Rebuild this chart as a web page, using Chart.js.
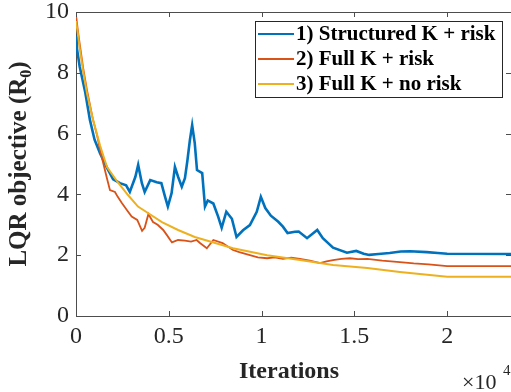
<!DOCTYPE html>
<html lang="en">
<head>
<meta charset="UTF-8">
<title>LQR objective vs iterations</title>
<script src="https://cdn.jsdelivr.net/npm/chart.js"></script>
<style>
    html, body { margin: 0; padding: 0; background: #fff; overflow: hidden; }
    .chart-container { position: relative; width: 511px; height: 392px; }
</style>
</head>
<body>
<div class="chart-container"><canvas id="lqr-chart"></canvas></div>
<script>
// iterations in units of 1e4 (the axis shows a x10^4 multiplier)
const structuredIter = [0, 0.005, 0.02, 0.05, 0.075, 0.1, 0.13, 0.165, 0.2, 0.237, 0.27, 0.29, 0.32, 0.335, 0.355, 0.37, 0.4, 0.435, 0.46, 0.48, 0.495, 0.515, 0.533, 0.55, 0.57, 0.587, 0.6, 0.614, 0.626, 0.64, 0.652, 0.68, 0.695, 0.71, 0.74, 0.766, 0.785, 0.81, 0.84, 0.865, 0.9, 0.937, 0.974, 0.996, 1.02, 1.05, 1.09, 1.115, 1.14, 1.18, 1.2, 1.245, 1.3, 1.33, 1.385, 1.46, 1.51, 1.55, 1.58, 1.63, 1.69, 1.75, 1.8, 1.89, 1.95, 2.0, 2.344];
const structuredObj = [9.2, 8.8, 8.2, 7.35, 6.45, 5.8, 5.35, 4.9, 4.5, 4.37, 4.3, 4.08, 4.58, 4.97, 4.37, 4.08, 4.47, 4.4, 4.37, 3.92, 3.6, 4.04, 4.9, 4.58, 4.25, 4.53, 5.1, 5.8, 6.28, 5.68, 4.8, 4.7, 3.6, 3.8, 3.7, 3.27, 2.9, 3.43, 3.2, 2.6, 2.82, 2.99, 3.43, 3.92, 3.55, 3.3, 3.1, 2.94, 2.73, 2.77, 2.78, 2.56, 2.83, 2.56, 2.25, 2.08, 2.14, 2.05, 2.01, 2.04, 2.07, 2.12, 2.13, 2.1, 2.07, 2.05, 2.04];

const fullRiskIter = [0, 0.01, 0.02, 0.04, 0.06, 0.09, 0.115, 0.13, 0.146, 0.165, 0.183, 0.21, 0.225, 0.247, 0.274, 0.3, 0.33, 0.356, 0.37, 0.39, 0.415, 0.44, 0.47, 0.49, 0.517, 0.55, 0.587, 0.62, 0.65, 0.668, 0.705, 0.74, 0.79, 0.846, 0.88, 0.937, 0.98, 1.03, 1.07, 1.115, 1.16, 1.207, 1.26, 1.315, 1.35, 1.385, 1.43, 1.476, 1.52, 1.57, 1.65, 1.745, 1.82, 1.9, 2.0, 2.344];
const fullRiskObj = [9.9, 9.4, 8.95, 8.1, 7.4, 6.5, 5.9, 5.45, 5.05, 4.57, 4.14, 4.08, 3.92, 3.72, 3.49, 3.27, 3.16, 2.8, 2.9, 3.35, 3.09, 3.0, 2.83, 2.66, 2.42, 2.5, 2.48, 2.45, 2.5, 2.4, 2.23, 2.5, 2.4, 2.17, 2.1, 2.0, 1.93, 1.9, 1.93, 1.88, 1.92, 1.88, 1.82, 1.74, 1.8, 1.84, 1.88, 1.9, 1.87, 1.88, 1.82, 1.77, 1.73, 1.7, 1.64, 1.64];

const noRiskIter = [0, 0.01, 0.02, 0.04, 0.06, 0.09, 0.13, 0.167, 0.225, 0.28, 0.334, 0.39, 0.463, 0.55, 0.64, 0.695, 0.846, 1.03, 1.207, 1.385, 1.57, 1.745, 2.0, 2.344];
const noRiskObj = [9.7, 9.3, 8.8, 8.0, 7.3, 6.5, 5.6, 4.9, 4.4, 3.98, 3.6, 3.38, 3.09, 2.83, 2.6, 2.5, 2.23, 2.0, 1.84, 1.68, 1.58, 1.45, 1.29, 1.29];

const seriesLabels = ['1) Structured K + risk', '2) Full K + risk', '3) Full K + no risk'];
const seriesColors = ['#0072BD', '#D95319', '#EDB120'];

const serif = 'Liberation Serif';
const textColor = '#262626';
const axisColor = '#4d4d4d';

const toPoints = (xs, ys) => xs.map((x, i) => ({ x: x, y: ys[i] }));

// MATLAB-like box: inward ticks, top border, legend, axis titles
const matlabAxes = {
    id: 'matlabAxes',
    afterDraw: (chart) => {
        const ctx = chart.ctx;
        const a = chart.chartArea;
        const xs = chart.scales.x;
        const ys = chart.scales.y;
        const tl = 5;
        ctx.save();
        ctx.strokeStyle = axisColor;
        ctx.lineWidth = 1;
        ctx.beginPath();
        ctx.moveTo(a.left, a.top + 0.5);
        ctx.lineTo(a.right + 2, a.top + 0.5);
        xs.ticks.forEach(t => {
            const px = Math.round(xs.getPixelForValue(t.value)) + 0.5;
            ctx.moveTo(px, a.bottom); ctx.lineTo(px, a.bottom - tl);
            ctx.moveTo(px, a.top); ctx.lineTo(px, a.top + tl);
        });
        ys.ticks.forEach(t => {
            const py = Math.round(ys.getPixelForValue(t.value)) + 0.5;
            ctx.moveTo(a.left, py); ctx.lineTo(a.left + tl, py);
            ctx.moveTo(a.right, py); ctx.lineTo(a.right - tl, py);
        });
        ctx.stroke();

        // legend
        const lx = 255, ly = 21, lw = 247, lh = 76;
        ctx.fillStyle = '#fff';
        ctx.fillRect(lx, ly, lw, lh);
        ctx.strokeStyle = '#262626';
        ctx.strokeRect(lx + 0.5, ly + 0.5, lw, lh);
        ctx.font = 'bold 21px "' + serif + '"';
        ctx.textBaseline = 'middle';
        ctx.textAlign = 'left';
        chart.data.datasets.forEach((ds, i) => {
            const y = 34 + i * 25;
            ctx.strokeStyle = ds.borderColor;
            ctx.lineWidth = 2;
            ctx.beginPath();
            ctx.moveTo(lx + 3, y); ctx.lineTo(lx + 39, y);
            ctx.stroke();
            ctx.fillStyle = '#000';
            ctx.fillText(ds.label, lx + 41, y + 1);
        });

        // x title and exponent
        ctx.fillStyle = textColor;
        ctx.font = 'bold 24px "' + serif + '"';
        ctx.textAlign = 'center';
        ctx.textBaseline = 'alphabetic';
        ctx.fillText('Iterations', 289, 378);
        ctx.font = '22px "' + serif + '"';
        ctx.textAlign = 'left';
        ctx.fillText('\u00d710', 462, 389);
        ctx.font = '15px "' + serif + '"';
        ctx.fillText('4', 503, 375);

        // y title with subscript
        ctx.translate(26, 164);
        ctx.rotate(-Math.PI / 2);
        const main = 'LQR objective (R';
        ctx.font = 'bold 25px "' + serif + '"';
        const w1 = ctx.measureText(main).width;
        const w3 = ctx.measureText(')').width;
        ctx.font = 'bold 16px "' + serif + '"';
        const w2 = ctx.measureText('0').width;
        let x0 = -(w1 + w2 + w3) / 2;
        ctx.font = 'bold 25px "' + serif + '"';
        ctx.fillText(main, x0, 0);
        ctx.font = 'bold 16px "' + serif + '"';
        ctx.fillText('0', x0 + w1, 5);
        ctx.font = 'bold 25px "' + serif + '"';
        ctx.fillText(')', x0 + w1 + w2, 0);
        ctx.restore();
    }
};

new Chart(document.getElementById('lqr-chart').getContext('2d'), {
    type: 'line',
    data: {
        datasets: [
            { label: seriesLabels[0], data: toPoints(structuredIter, structuredObj), borderColor: seriesColors[0], borderWidth: 2.6, order: 2 },
            { label: seriesLabels[1], data: toPoints(fullRiskIter, fullRiskObj), borderColor: seriesColors[1], borderWidth: 1.8, order: 1 },
            { label: seriesLabels[2], data: toPoints(noRiskIter, noRiskObj), borderColor: seriesColors[2], borderWidth: 2, order: 0 }
        ]
    },
    options: {
        responsive: true,
        maintainAspectRatio: false,
        animation: false,
        datasets: { line: { pointRadius: 0, fill: false, tension: 0 } },
        layout: { padding: { top: 12, left: 0, right: 0, bottom: 0 } },
        plugins: { legend: { display: false }, tooltip: { enabled: false } },
        scales: {
            x: {
                type: 'linear', min: 0, max: 2.344,
                afterFit: s => { s.height = 76; s.paddingLeft = 0; s.paddingRight = 0; },
                grid: { display: false, drawTicks: false },
                border: { display: true, color: axisColor, width: 1 },
                ticks: { stepSize: 0.5, includeBounds: false, padding: 6, color: textColor, font: { family: serif, size: 24 }, maxRotation: 0, autoSkip: false, callback: v => String(v) }
            },
            y: {
                min: 0, max: 10,
                afterFit: s => { s.width = 76; s.paddingTop = 0; s.paddingBottom = 0; },
                grid: { display: false, drawTicks: false },
                border: { display: true, color: axisColor, width: 1 },
                ticks: { stepSize: 2, padding: 7, color: textColor, font: { family: serif, size: 24 }, callback: v => String(v) }
            }
        }
    },
    plugins: [matlabAxes]
});
</script>
</body>
</html>
